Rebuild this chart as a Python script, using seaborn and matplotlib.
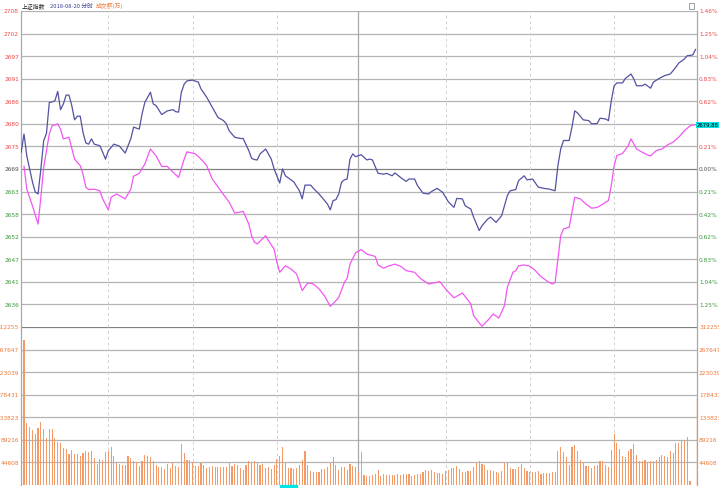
import matplotlib
matplotlib.use("Agg")
import matplotlib.pyplot as plt
import seaborn as sns
from matplotlib.patches import Rectangle

sns.set_theme(style="white")
plt.rcParams['font.family'] = ['Noto Sans CJK SC', 'DejaVu Sans']

# ---- data (minute index counted from 09:30, afternoon follows 11:30 directly) ----
prev_close = 2668.97

price_min = [-1, 0, 1, 2, 3, 4, 5, 6, 7, 8, 9, 10, 11, 12, 13, 14, 15, 16, 17, 18, 19, 20,
             21, 22, 23, 24, 25, 27, 28, 29, 30, 32, 34, 36, 38, 39, 41, 42, 43, 45, 46, 47,
             49, 51, 53, 54, 55, 56, 57, 58, 60, 62, 63, 65, 67, 69, 71, 72, 73, 75, 77, 78,
             80, 81, 82, 83, 84, 86, 88, 89, 91, 92, 93, 95, 96, 98, 99, 100, 102, 103, 105,
             106, 108, 109, 110, 111, 112, 113, 114, 115, 116, 117, 118, 120, 122, 123, 124,
             126, 128, 129, 131, 132, 134, 136, 137, 139, 140, 142, 144, 145, 147, 149, 151,
             153, 154, 156, 157, 159, 160, 162, 163, 165, 166, 168, 170, 172, 173, 175, 176,
             178, 179, 181, 183, 185, 187, 189, 190, 191, 192, 194, 195, 196, 197, 199, 201,
             202, 204, 205, 207, 208, 209, 210, 211, 213, 214, 216, 217, 218, 220, 221, 223,
             224, 226, 228, 230, 232, 233, 235, 236, 238, 239]
price = [2673.1, 2677.6, 2672.2, 2669.0, 2665.8, 2663.3, 2662.8, 2669.0, 2675.9, 2677.8,
         2685.4, 2685.5, 2685.8, 2688.1, 2683.6, 2685.0, 2687.2, 2687.2, 2684.6, 2681.1,
         2682.0, 2682.0, 2678.0, 2675.4, 2675.1, 2676.4, 2675.1, 2674.7, 2673.1, 2671.4,
         2673.5, 2675.1, 2674.6, 2672.9, 2676.4, 2679.3, 2678.8, 2682.5, 2685.4, 2687.9,
         2685.0, 2684.6, 2682.4, 2683.3, 2683.6, 2683.1, 2683.0, 2687.9, 2689.9, 2690.7,
         2690.9, 2690.4, 2688.7, 2686.7, 2684.2, 2681.7, 2680.9, 2680.1, 2678.4, 2676.8,
         2676.5, 2676.5, 2673.5, 2671.6, 2671.3, 2671.2, 2672.7, 2673.9, 2671.4, 2669.0,
         2665.5, 2669.0, 2667.3, 2666.3, 2665.8, 2663.6, 2661.6, 2665.0, 2665.0, 2664.2,
         2662.8, 2662.0, 2660.3, 2658.9, 2661.2, 2661.4, 2662.8, 2665.7, 2666.3, 2666.5,
         2671.4, 2672.7, 2672.0, 2672.5, 2671.2, 2671.4, 2671.2, 2667.9, 2667.7, 2667.9,
         2667.3, 2668.0, 2666.9, 2665.9, 2666.5, 2666.5, 2664.9, 2663.0, 2662.8, 2663.4,
         2664.2, 2663.2, 2660.9, 2659.5, 2661.7, 2661.6, 2659.9, 2659.1, 2657.1, 2653.8,
         2655.0, 2656.6, 2657.1, 2655.8, 2657.5, 2662.4, 2663.6, 2663.9, 2666.1, 2667.3,
         2666.3, 2666.5, 2664.5, 2664.2, 2664.0, 2663.6, 2669.8, 2673.9, 2676.0, 2676.0,
         2679.3, 2683.3, 2682.8, 2681.1, 2680.9, 2680.1, 2680.2, 2681.5, 2681.3, 2680.9,
         2685.8, 2689.5, 2690.2, 2690.2, 2691.3, 2692.4, 2691.2, 2689.5, 2689.5, 2689.9,
         2688.9, 2690.4, 2691.3, 2692.0, 2692.4, 2694.1, 2695.1, 2696.1, 2696.9, 2697.1,
         2698.5]

second_min = [0, 1, 3, 5, 6, 7, 8, 9, 10, 12, 13, 14, 16, 18, 20, 21, 22, 23, 25, 27, 28,
              30, 31, 33, 36, 38, 39, 41, 43, 45, 47, 49, 51, 53, 55, 57, 58, 61, 63, 65, 67,
              70, 73, 75, 78, 80, 81, 82, 83, 86, 87, 89, 90, 91, 93, 95, 97, 99, 101, 103,
              105, 107, 109, 111, 112, 114, 115, 116, 118, 120, 122, 124, 125, 126, 128, 130,
              132, 134, 136, 139, 141, 144, 146, 148, 150, 153, 156, 159, 160, 162, 163, 165,
              167, 169, 171, 172, 174, 175, 176, 178, 180, 182, 184, 186, 188, 189, 190, 191,
              192, 194, 195, 196, 198, 200, 202, 204, 206, 207, 208, 209, 210, 211, 213, 215,
              216, 218, 220, 222, 223, 225, 227, 229, 231, 233, 235, 237, 238, 239]
second_line = [2669.7, 2664.0, 2659.9, 2655.4, 2662.0, 2669.4, 2673.5, 2677.6, 2679.6, 2680.1,
               2678.8, 2676.4, 2676.8, 2671.4, 2669.8, 2667.7, 2664.5, 2663.9, 2664.0, 2663.6,
               2661.6, 2658.9, 2662.0, 2662.8, 2661.6, 2664.0, 2667.2, 2667.9, 2670.2, 2673.9,
               2672.2, 2669.6, 2669.6, 2668.2, 2666.9, 2671.4, 2673.2, 2672.7, 2671.4, 2669.8,
               2666.5, 2663.6, 2660.8, 2658.1, 2658.5, 2655.4, 2652.5, 2650.9, 2650.5, 2652.5,
               2651.3, 2649.2, 2646.0, 2643.5, 2645.1, 2644.3, 2643.1, 2639.0, 2640.9, 2640.6,
               2639.4, 2637.6, 2635.1, 2636.5, 2637.3, 2641.0, 2642.0, 2645.5, 2648.3, 2649.1,
               2648.0, 2647.6, 2647.4, 2645.3, 2644.5, 2645.1, 2645.5, 2645.0, 2643.9, 2643.5,
               2642.0, 2640.6, 2640.9, 2641.2, 2639.4, 2637.2, 2638.4, 2635.7, 2632.8, 2631.0,
               2630.2, 2631.6, 2633.2, 2632.2, 2635.3, 2639.8, 2643.5, 2643.9, 2645.1, 2645.3,
               2645.0, 2643.9, 2642.4, 2641.4, 2640.6, 2641.0, 2646.8, 2652.5, 2654.2, 2654.6,
               2658.3, 2662.0, 2661.6, 2660.3, 2659.3, 2659.5, 2660.3, 2660.8, 2661.2, 2664.9,
               2669.8, 2672.3, 2672.8, 2674.7, 2676.4, 2673.9, 2673.1, 2672.4, 2672.2, 2673.5,
               2673.9, 2674.9, 2675.6, 2676.8, 2678.4, 2679.6, 2679.8, 2679.88]

volume = [286000, 122000, 115000, 108000, 100000, 112000, 124000, 110000, 92000, 110000,
          110000, 93000, 84000, 83000, 73000, 71000, 61000, 69000, 61000, 62000,
          57000, 63000, 67000, 66000, 67000, 54000, 42000, 52000, 50000, 65000,
          68000, 75000, 57000, 44000, 42000, 40000, 40000, 57000, 53000, 48000,
          46000, 38000, 48000, 60000, 58000, 56000, 48000, 39000, 35000, 35000,
          32000, 42000, 34000, 43000, 38000, 36000, 81000, 63000, 50000, 50000,
          46000, 38000, 38000, 44000, 40000, 34000, 35000, 37000, 36000, 36000,
          35000, 35000, 36000, 43000, 38000, 42000, 40000, 33000, 29000, 39000,
          48000, 45000, 48000, 44000, 40000, 41000, 34000, 35000, 32000, 40000,
          51000, 57000, 75000, 44000, 33000, 34000, 31000, 34000, 40000, 49000,
          67000, 40000, 28000, 25000, 26000, 26000, 31000, 32000, 36000, 43000,
          56000, 40000, 30000, 35000, 36000, 30000, 41000, 38000, 36000, 25000,
          65000, 19000, 18000, 17000, 20000, 21000, 29000, 18000, 21000, 20000,
          20000, 20000, 20000, 21000, 20000, 22000, 22000, 22000, 18000, 19000,
          21000, 21000, 26000, 30000, 28000, 29000, 26000, 24000, 24000, 21000,
          27000, 30000, 33000, 33000, 38000, 32000, 26000, 26000, 27000, 28000,
          36000, 44000, 48000, 42000, 40000, 29000, 30000, 28000, 25000, 24000,
          27000, 44000, 44000, 34000, 32000, 32000, 36000, 42000, 34000, 28000,
          26000, 25000, 25000, 28000, 22000, 24000, 24000, 24000, 26000, 26000,
          67000, 76000, 65000, 55000, 40000, 76000, 80000, 68000, 50000, 46000,
          38000, 38000, 34000, 38000, 40000, 47000, 48000, 40000, 36000, 69000,
          100000, 83000, 71000, 57000, 56000, 68000, 71000, 81000, 60000, 48000,
          48000, 50000, 45000, 48000, 48000, 50000, 56000, 59000, 57000, 56000,
          67000, 63000, 83000, 83000, 89000, 89000, 95000, 8000]
vol_min = list(range(len(volume)))

left_labels = ["2708", "2702", "2697", "2691", "2686", "2680", "2675", "2669",
               "2663", "2658", "2652", "2647", "2641", "2636"]
right_labels = ["1.46%", "1.25%", "1.04%", "0.83%", "0.62%", "0.42%", "0.21%", "0.00%",
                "0.21%", "0.42%", "0.62%", "0.83%", "1.04%", "1.25%"]
vol_ticks = [312255, 267647, 223039, 178431, 133823, 89216, 44608]
vol_labels = ["312255", "267647", "223039", "178431", "133823", "89216", "44608"]
half_hours = [30, 60, 90, 150, 180, 210]
noon = 119

# ---- colours ----
c_price = "#5252a2"
c_second = "#f256f2"
c_vol = "#f39a68"
c_up = "#f04848"
c_down = "#3a9a3a"
c_flat = "#505050"
c_orange = "#f07838"
c_grid = "#b4b4b4"
c_dark = "#808080"
fs = 4.2

fig = plt.figure(figsize=(7.19, 4.89), dpi=100)
W, H = 719, 489
ax = fig.add_axes([21 / W, 161 / H, 676 / W, 316 / H])
axv = fig.add_axes([21 / W, 3 / H, 676 / W, 158 / H])

rng = 0.0146
step = rng / 7
levels = [prev_close * (1 + k * step) for k in range(7, -7, -1)]
xlim = (-1.07, 239.5)

# price panel
for lv, lab in zip(levels, left_labels):
    col = c_dark if lab == "2669" else c_grid
    ax.axhline(lv, color=col, lw=0.9, zorder=1)
for m in half_hours:
    ax.axvline(m, color="#d0d0d0", lw=0.7, ls=(0, (3, 3)), zorder=1)
ax.axvline(noon, color="#a8a8a8", lw=0.9, zorder=1)

sns.lineplot(x=price_min, y=price, ax=ax, color=c_price, linewidth=0.9, zorder=3)
sns.lineplot(x=second_min, y=second_line, ax=ax, color=c_second, linewidth=0.9, zorder=3)

ax.set_xlim(*xlim)
ax.set_ylim(prev_close * (1 - rng), prev_close * (1 + rng))
ax.set_xticks([])
ax.set_yticks([])
ax.set_xlabel("")
ax.set_ylabel("")

ytr = ax.get_yaxis_transform()
for i, (lv, lab, rlab) in enumerate(zip(levels, left_labels, right_labels)):
    col = c_up if i < 7 else (c_flat if i == 7 else c_down)
    ax.text(-0.003, lv, lab, transform=ytr, ha="right", va="center",
            fontsize=fs, color=col, family="DejaVu Sans")
    ax.text(1.003, lv, rlab, transform=ytr, ha="left", va="center",
            fontsize=fs, color=col, family="DejaVu Sans")

ax.text(1.0, second_line[-1], f"{second_line[-1]:.2f}", transform=ytr, ha="left",
        va="center", fontsize=3.8, color="black", family="DejaVu Sans", zorder=5,
        bbox=dict(boxstyle="square,pad=0.12", fc="#00e5e5", ec="none"))

# volume panel
for t in vol_ticks:
    col = c_dark if t == vol_ticks[0] else c_grid
    axv.axhline(t, color=col, lw=0.9, zorder=1)
for m in half_hours:
    axv.axvline(m, color="#d0d0d0", lw=0.7, ls=(0, (3, 3)), zorder=1)
axv.axvline(noon, color="#a8a8a8", lw=0.9, zorder=1)

sns.barplot(x=vol_min, y=volume, ax=axv, native_scale=True, color=c_vol,
            saturation=1, width=0.4, linewidth=0, errorbar=None, zorder=3)

axv.set_xlim(*xlim)
axv.set_ylim(0, vol_ticks[0])
axv.set_xticks([])
axv.set_yticks([])
axv.set_xlabel("")
axv.set_ylabel("")
vtr = axv.get_yaxis_transform()
for t, lab in zip(vol_ticks, vol_labels):
    axv.text(-0.003, t, lab, transform=vtr, ha="right", va="center",
             fontsize=fs, color=c_orange, family="DejaVu Sans")
    axv.text(1.003, t, lab, transform=vtr, ha="left", va="center",
             fontsize=fs, color=c_orange, family="DejaVu Sans")
axv.axvline(xlim[1] - 0.15, ymin=0, ymax=0.55, color=c_vol, lw=1.0, zorder=4)

for a in (ax, axv):
    for s in ("top", "bottom"):
        a.spines[s].set_visible(False)
    for s in ("left", "right"):
        a.spines[s].set_color("#a8a8a8")
        a.spines[s].set_linewidth(0.9)
    a.set_facecolor("white")

# header, each piece chained right after the previous one
t1 = fig.text(22 / W, 1 - 6 / H, "上证指数", fontsize=fs, color="#202020", va="center")
t2 = ax.annotate("2018-08-20 分时", xy=(1, 0.5), xycoords=t1, xytext=(3, 0),
                 textcoords="offset points", va="center", ha="left",
                 fontsize=fs, color="#3c3c96", annotation_clip=False)
t3 = ax.annotate("成交额(万)", xy=(1, 0.5), xycoords=t2, xytext=(2, 0),
                 textcoords="offset points", va="center", ha="left",
                 fontsize=fs, color=c_orange, annotation_clip=False)
fig.patches.append(Rectangle((689 / W, 1 - 10 / H), 5 / W, 6 / H, fill=False,
                             ec="#909090", lw=0.6, transform=fig.transFigure))
fig.patches.append(Rectangle((280 / W, 0), 17 / W, 3 / H, color="#00e5e5",
                             transform=fig.transFigure))

fig.savefig("out.png", dpi=100, facecolor="white")
